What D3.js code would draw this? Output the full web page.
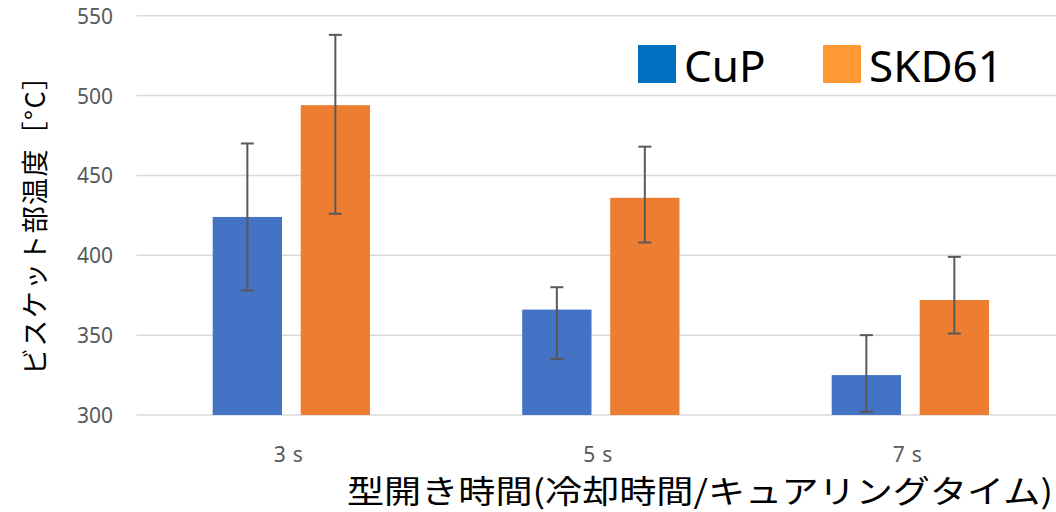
<!DOCTYPE html>
<html>
<head>
<meta charset="utf-8">
<script src="https://cdn.jsdelivr.net/npm/d3@7"></script>
<style>
  html, body { margin: 0; padding: 0; background: #fff; }
  svg { display: block; }
</style>
</head>
<body>
<svg id="chart" width="1056" height="512"></svg>
<script>
// Categories (mould-open time) and series
const categories = ["3\u2004s", "5\u2004s", "7\u2004s"];
const seriesNames = ["CuP", "SKD61"];

// Mean biscuit temperature [°C]
const cupValues   = [424, 366, 325];
const skd61Values = [494, 436, 372];

// Error bar extents (lower / upper) [°C]
const cupLower   = [378, 335, 302];
const cupUpper   = [470, 380, 350];
const skd61Lower = [426, 408, 351];
const skd61Upper = [538, 468, 399];

const yTicks = [300, 350, 400, 450, 500, 550];

const barColors    = { "CuP": "#4472C4", "SKD61": "#ED7D31" };
const legendColors = { "CuP": "#0070C0", "SKD61": "#FF9933" };

const rows = [];
categories.forEach((c, i) => {
  rows.push({ cat: c, series: "CuP",   value: cupValues[i],   lo: cupLower[i],   hi: cupUpper[i] });
  rows.push({ cat: c, series: "SKD61", value: skd61Values[i], lo: skd61Lower[i], hi: skd61Upper[i] });
});

const svg = d3.select("#chart");

const plot = { left: 136.6, right: 1065.1, top: 15.7, bottom: 415 };

const y = d3.scaleLinear().domain([300, 550]).range([plot.bottom, plot.top]);
const x = d3.scaleBand().domain(categories).range([plot.left, plot.right]).padding(0);
const step = x.bandwidth();
const inner = d3.scaleBand().domain(seriesNames)
  .range([step * 0.2459, step * 0.7541]).paddingInner(0.2125).paddingOuter(0);

// Gridlines
svg.append("g")
  .selectAll("line")
  .data(yTicks)
  .join("line")
  .attr("x1", plot.left).attr("x2", plot.right)
  .attr("y1", d => y(d)).attr("y2", d => y(d))
  .attr("stroke", "#D9D9D9").attr("stroke-width", 1.5);

// Y axis tick labels
svg.append("g")
  .selectAll("text")
  .data(yTicks)
  .join("text")
  .attr("x", 113).attr("y", d => y(d))
  .attr("text-anchor", "end").attr("dominant-baseline", "central")
  .attr("font-family", "'Noto Sans', sans-serif").attr("font-size", 21)
  .attr("fill", "#595959")
  .text(d => d);

// Bars
svg.append("g")
  .selectAll("rect")
  .data(rows)
  .join("rect")
  .attr("x", d => x(d.cat) + inner(d.series))
  .attr("width", inner.bandwidth())
  .attr("y", d => y(d.value))
  .attr("height", d => y(300) - y(d.value))
  .attr("fill", d => barColors[d.series]);

// Error bars
const eb = svg.append("g").attr("stroke", "#595959").attr("stroke-width", 2);
rows.forEach(d => {
  const cx = x(d.cat) + inner(d.series) + inner.bandwidth() / 2;
  eb.append("line").attr("x1", cx).attr("x2", cx).attr("y1", y(d.hi)).attr("y2", y(d.lo));
  [d.hi, d.lo].forEach(v => {
    eb.append("line").attr("x1", cx - 6.5).attr("x2", cx + 6.5).attr("y1", y(v)).attr("y2", y(v));
  });
});

// X axis category labels
svg.append("g")
  .selectAll("text")
  .data(categories)
  .join("text")
  .attr("x", d => x(d) + step / 2 - 3)
  .attr("y", 454)
  .attr("text-anchor", "middle").attr("dominant-baseline", "central")
  .attr("font-family", "'Noto Sans', sans-serif").attr("font-size", 21)
  .attr("fill", "#595959")
  .text(d => d);

// Axis titles
svg.append("text")
  .attr("x", 1053).attr("y", 489)
  .attr("text-anchor", "end").attr("dominant-baseline", "central")
  .attr("font-family", "'Noto Sans CJK JP', sans-serif").attr("font-size", 32)
  .attr("textLength", 706).attr("lengthAdjust", "spacingAndGlyphs")
  .attr("fill", "#000")
  .text("型開き時間(冷却時間/キュアリングタイム)");

svg.append("text")
  .attr("transform", "translate(33,219) rotate(-90)")
  .attr("text-anchor", "middle").attr("dominant-baseline", "central")
  .attr("font-family", "'Noto Sans CJK JP', sans-serif").attr("font-size", 27)
  .attr("textLength", 312).attr("lengthAdjust", "spacing")
  .attr("fill", "#000")
  .text("ビスケット部温度［°C］");

// Legend
const legendItems = [
  { name: "CuP",   x: 638 },
  { name: "SKD61", x: 823 }
];
const lg = svg.append("g");
legendItems.forEach(it => {
  lg.append("rect").attr("x", it.x).attr("y", 45).attr("width", 38).attr("height", 38)
    .attr("fill", legendColors[it.name]);
  lg.append("text").attr("x", it.x + 46).attr("y", 82)
    .attr("font-family", "'Noto Sans', sans-serif").attr("font-size", 44)
    .attr("fill", "#000")
    .text(it.name);
});
</script>
</body>
</html>
